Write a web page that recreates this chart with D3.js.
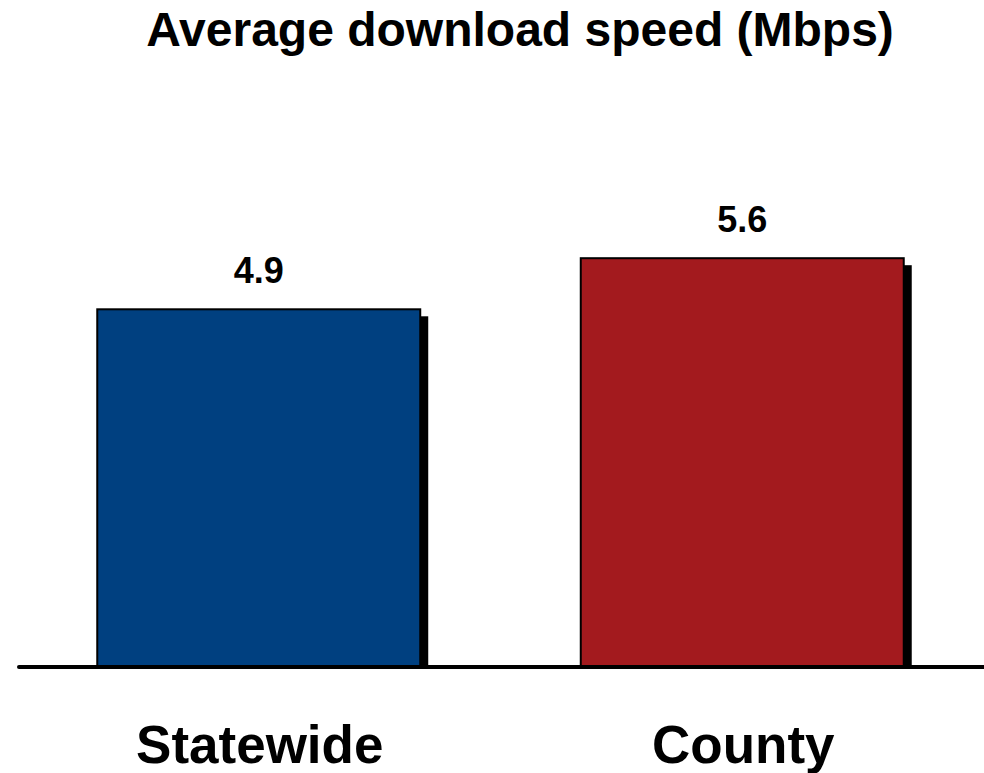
<!DOCTYPE html>
<html>
<head>
<meta charset="utf-8">
<script src="https://cdn.jsdelivr.net/npm/d3@7"></script>
<style>
  html, body { margin: 0; padding: 0; background: #fff; }
  svg { display: block; font-family: "Liberation Sans", Arial, sans-serif; }
</style>
</head>
<body>
<svg id="chart" width="984" height="773"></svg>
<script>
const categories = ["Statewide", "County"];
const values = [4.9, 5.6];
const valueLabels = ["4.9", "5.6"];
const colors = ["#004080", "#A31A1E"];
const title = "Average download speed (Mbps)";

const W = 984, H = 773;
const svg = d3.select("#chart");
const baseY = 667;

const x = d3.scaleBand().domain(categories).range([17, 984]).paddingInner(0.332).paddingOuter(0.166);
const y = d3.scaleLinear().domain([0, 6]).range([baseY, baseY - 6 * 73.0]);

svg.append("text")
  .attr("x", 520).attr("y", 46)
  .attr("text-anchor", "middle")
  .attr("font-size", 48).attr("font-weight", "bold")
  .text(title);

const g = svg.append("g");
const data = categories.map((c, i) => ({ c, v: values[i], label: valueLabels[i], color: colors[i] }));

// shadows
g.selectAll("rect.shadow").data(data).enter().append("rect")
  .attr("class", "shadow")
  .attr("x", d => x(d.c) + 8)
  .attr("y", d => y(d.v) + 7)
  .attr("width", x.bandwidth())
  .attr("height", d => baseY - y(d.v) - 7)
  .attr("fill", "#000");

// baseline
svg.append("line")
  .attr("x1", 19).attr("x2", 984)
  .attr("y1", baseY).attr("y2", baseY)
  .attr("stroke", "#000").attr("stroke-width", 4)
  .attr("stroke-linecap", "round");

// bars
g.selectAll("rect.bar").data(data).enter().append("rect")
  .attr("class", "bar")
  .attr("x", d => x(d.c))
  .attr("y", d => y(d.v))
  .attr("width", x.bandwidth())
  .attr("height", d => baseY - 1 - y(d.v))
  .attr("fill", d => d.color)
  .attr("stroke", "#000").attr("stroke-width", 2);

// value labels
g.selectAll("text.val").data(data).enter().append("text")
  .attr("class", "val")
  .attr("x", d => x(d.c) + x.bandwidth() / 2)
  .attr("y", d => y(d.v) - 26)
  .attr("text-anchor", "middle")
  .attr("font-size", 36).attr("font-weight", "bold")
  .text(d => d.label);

// category labels
g.selectAll("text.cat").data(data).enter().append("text")
  .attr("class", "cat")
  .attr("x", d => x(d.c) + x.bandwidth() / 2 + 1)
  .attr("y", 763)
  .attr("text-anchor", "middle")
  .attr("font-size", 53).attr("font-weight", "bold")
  .text(d => d.c);
</script>
</body>
</html>
